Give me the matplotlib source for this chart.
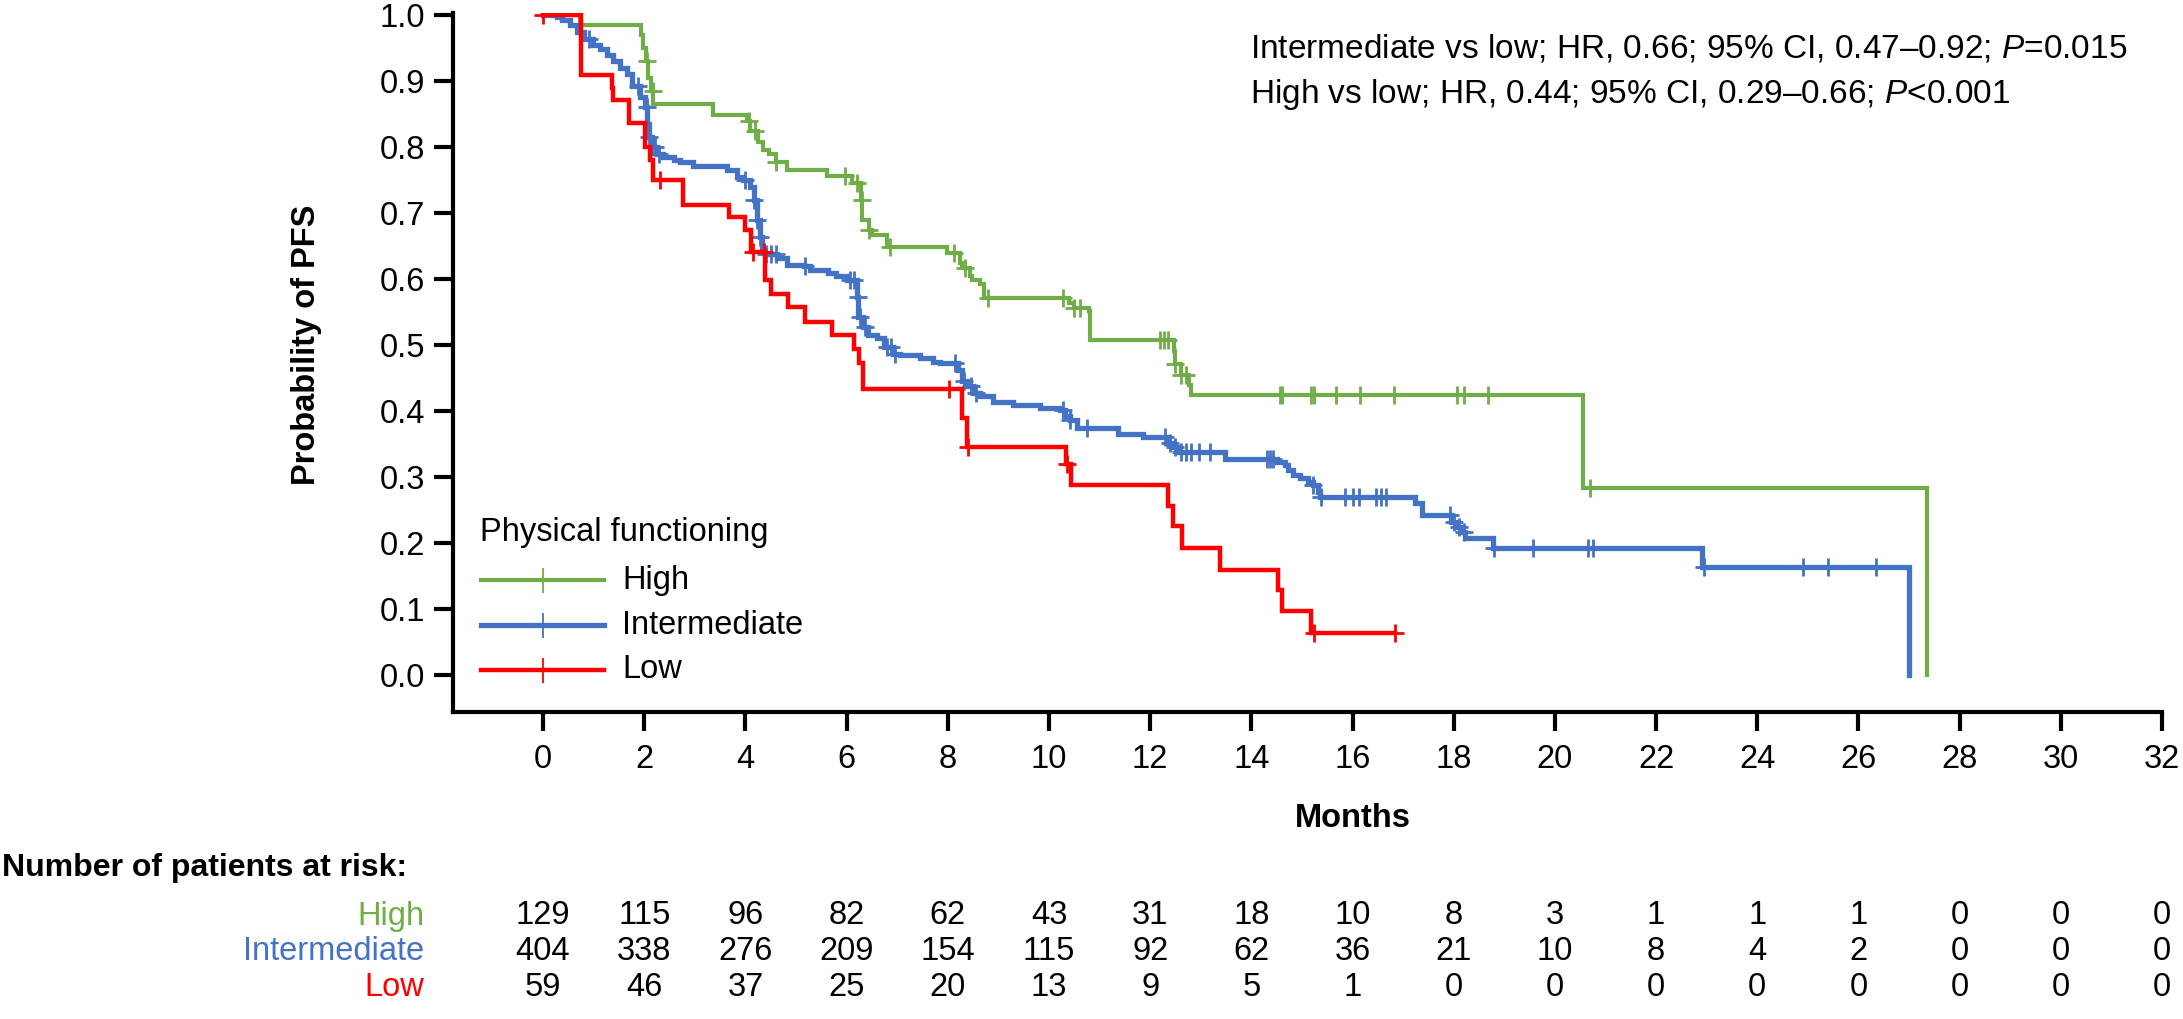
import numpy as np
import matplotlib
matplotlib.use('Agg')
import matplotlib.pyplot as plt
from matplotlib.lines import Line2D
from matplotlib.transforms import blended_transform_factory

plt.rcParams['font.family'] = ['Liberation Sans', 'DejaVu Sans']
plt.rcParams['mathtext.fontset'] = 'custom'
plt.rcParams['mathtext.it'] = 'Liberation Sans:italic'
plt.rcParams['mathtext.rm'] = 'Liberation Sans'

GREEN = '#70AD47'
BLUE = '#4472C4'
RED = '#FF0000'
FS = 23.5
W, H = 2183, 1019

# KM step data (months, probability of PFS)
high_t = [0, 0.74, 1.93, 1.98, 2.03, 2.08, 2.13, 2.18, 3.36, 4.03, 4.10, 4.25, 4.34, 4.47,
          4.60, 4.82, 5.62, 6.10, 6.28, 6.31, 6.44, 6.51, 6.80, 7.98, 8.25, 8.28, 8.44, 8.48,
          8.64, 8.71, 10.39, 10.49, 10.79, 10.82, 12.47, 12.50, 12.60, 12.77, 12.80, 20.56, 27.35]
high_s = [1.0, 0.985, 0.97, 0.95, 0.93, 0.905, 0.885, 0.865, 0.848, 0.84, 0.825, 0.808, 0.796,
          0.789, 0.777, 0.765, 0.756, 0.746, 0.72, 0.689, 0.674, 0.667, 0.649, 0.639, 0.624,
          0.616, 0.604, 0.598, 0.593, 0.571, 0.563, 0.556, 0.551, 0.508, 0.491, 0.471, 0.455,
          0.44, 0.424, 0.283, 0.0]
high_cens = [2.05, 2.17, 4.08, 4.18, 4.6, 5.97, 6.2, 6.3, 6.45, 6.85, 8.12, 8.35, 8.8, 10.27,
             10.5, 10.62, 12.2, 12.28, 12.35, 12.5, 12.6, 12.7, 14.57, 14.6, 15.18, 15.23,
             15.68, 16.15, 16.82, 18.06, 18.2, 18.67, 20.69]

int_t = [0, 0.27, 0.37, 0.53, 0.67, 0.80, 0.99, 1.13, 1.26, 1.39, 1.52, 1.65, 1.75, 1.92, 2.02,
         2.06, 2.10, 2.15, 2.25, 2.38, 2.58, 2.71, 2.97, 3.63, 3.83, 3.96, 4.09, 4.16, 4.22,
         4.28, 4.33, 4.39, 4.62, 4.82, 5.15, 5.28, 5.64, 5.80, 6.00, 6.20, 6.23, 6.33, 6.43,
         6.60, 6.73, 6.92, 7.05, 7.45, 7.71, 7.85, 8.21, 8.28, 8.37, 8.50, 8.64, 8.90, 9.29,
         9.82, 10.22, 10.32, 10.41, 10.55, 11.37, 11.85, 12.36, 12.45, 12.55, 13.48, 14.50,
         14.66, 14.73, 14.83, 14.96, 15.12, 15.22, 15.32, 15.36, 17.24, 17.37, 17.95, 18.05,
         18.15, 18.22, 18.78, 22.90, 27.0]
int_s = [1.0, 0.997, 0.993, 0.985, 0.975, 0.963, 0.955, 0.948, 0.94, 0.93, 0.92, 0.91, 0.893,
         0.876, 0.86, 0.835, 0.815, 0.80, 0.79, 0.785, 0.78, 0.777, 0.772, 0.765, 0.755, 0.75,
         0.74, 0.72, 0.69, 0.664, 0.644, 0.638, 0.632, 0.621, 0.619, 0.614, 0.609, 0.604,
         0.598, 0.573, 0.543, 0.528, 0.515, 0.51, 0.497, 0.487, 0.485, 0.48, 0.475, 0.472,
         0.462, 0.445, 0.438, 0.427, 0.422, 0.414, 0.409, 0.404, 0.402, 0.392, 0.386, 0.374,
         0.365, 0.36, 0.352, 0.345, 0.338, 0.327, 0.323, 0.318, 0.311, 0.303, 0.298, 0.293,
         0.288, 0.278, 0.269, 0.26, 0.242, 0.232, 0.225, 0.217, 0.207, 0.192, 0.163, 0.0]
int_cens = [0.9, 1.88, 2.05, 2.1, 2.15, 2.22, 2.3, 3.99, 4.17, 4.22, 4.29, 4.4, 4.5, 4.6, 5.17,
            6.07, 6.15, 6.22, 6.27, 6.37, 6.8, 6.87, 6.95, 8.14, 8.32, 8.45, 8.55, 10.27, 10.42,
            10.75, 12.3, 12.4, 12.5, 12.6, 12.7, 12.8, 12.97, 13.18, 14.3, 14.37, 14.43, 15.22,
            15.38, 15.85, 16.0, 16.13, 16.46, 16.56, 16.66, 17.92, 18.0, 18.1, 18.2, 18.8,
            19.57, 20.66, 20.75, 22.95, 24.9, 25.4, 26.35]

low_t = [0, 0.76, 1.36, 1.39, 1.69, 2.02, 2.11, 2.18, 2.77, 3.68, 3.99, 4.12, 4.38, 4.50, 4.85,
         5.18, 5.71, 6.14, 6.24, 6.33, 8.28, 8.38, 10.33, 10.43, 12.36, 12.46, 12.62, 13.39,
         14.53, 14.60, 15.17, 16.84]
low_s = [1.0, 0.909, 0.889, 0.871, 0.836, 0.80, 0.78, 0.75, 0.712, 0.694, 0.674, 0.641, 0.598,
         0.578, 0.558, 0.535, 0.515, 0.494, 0.473, 0.433, 0.39, 0.346, 0.319, 0.288, 0.256,
         0.226, 0.192, 0.159, 0.129, 0.097, 0.063, 0.063]
low_cens = [0.0, 2.31, 4.15, 4.36, 8.02, 8.40, 10.36, 15.23, 16.84]

# number at risk
risk_months = list(range(0, 33, 2))
high_risk = [129, 115, 96, 82, 62, 43, 31, 18, 10, 8, 3, 1, 1, 1, 0, 0, 0]
int_risk = [404, 338, 276, 209, 154, 115, 92, 62, 36, 21, 10, 8, 4, 2, 0, 0, 0]
low_risk = [59, 46, 37, 25, 20, 13, 9, 5, 1, 0, 0, 0, 0, 0, 0, 0, 0]

groups = [('High', GREEN, high_t, high_s, high_cens, high_risk, 3.0),
          ('Intermediate', BLUE, int_t, int_s, int_cens, int_risk, 3.8),
          ('Low', RED, low_t, low_s, low_cens, low_risk, 3.2)]

fig = plt.figure(figsize=(W / 100, H / 100), dpi=100)
ax = fig.add_axes([0.2075, 0.3013, 0.7829, 0.6859])

for name, col, t, s, cens, risk, lw in groups:
    t = np.array(t)
    s = np.array(s)
    ax.step(t, s, where='post', color=col, lw=lw, solid_joinstyle='miter')
    c = np.array(cens)
    cy = s[np.searchsorted(t, c, side='right') - 1]
    ax.plot(c, cy, ls='none', marker='+', ms=13, mew=2.0, color=col)

ax.set_xlim(-1.78, 32)
ax.set_ylim(-0.056, 1.003)
ax.set_xticks(risk_months)
ax.set_yticks(np.arange(0, 1.01, 0.1))
ax.yaxis.set_major_formatter(matplotlib.ticker.FormatStrFormatter('%.1f'))
for sp in ['top', 'right']:
    ax.spines[sp].set_visible(False)
for sp in ['left', 'bottom']:
    ax.spines[sp].set_linewidth(3.0)
ax.tick_params(axis='both', width=3.0, length=14, labelsize=FS, direction='out')
ax.tick_params(axis='x', pad=9)
ax.tick_params(axis='y', pad=6)

# legend, drawn by hand (pixel positions of the original)
fig.text(480 / W, 1 - 533 / H, 'Physical functioning', fontsize=FS, ha='left', va='center')
for (name, col, t, s, cens, risk, lw), yy in zip(groups, [580, 625, 670]):
    yf = 1 - yy / H
    fig.add_artist(Line2D([481 / W, 604 / W], [yf, yf], transform=fig.transFigure,
                          color=col, lw=lw))
    fig.add_artist(Line2D([543 / W], [yf], transform=fig.transFigure, ls='none',
                          marker='+', ms=18, mew=1.3, color=col))
    fig.text(622 / W, yf, name, fontsize=FS, ha='left', va='center')

fig.text(1250 / W, 1 - 49 / H, 'Intermediate vs low; HR, 0.66; 95% CI, 0.47\u20130.92; $P$=0.015',
         fontsize=24, ha='left', va='center')
fig.text(1250 / W, 1 - 95 / H, 'High vs low; HR, 0.44; 95% CI, 0.29\u20130.66; $P$<0.001',
         fontsize=24, ha='left', va='center')

fig.text(0.1406, 0.6614, 'Probability of PFS', rotation=90, fontsize=FS,
         fontweight='bold', ha='center', va='center')
tr = blended_transform_factory(ax.transData, fig.transFigure)
fig.text(16, 0.1963, 'Months', transform=tr, fontsize=FS, fontweight='bold',
         ha='center', va='center')

fig.text(0.001, 0.1482, 'Number of patients at risk:', fontsize=23, fontweight='bold',
         ha='left', va='center')
row_y = [1 - 916 / H, 1 - 952 / H, 1 - 987 / H]
for (name, col, t, s, cens, risk, lw), yy in zip(groups, row_y):
    fig.text(424 / W, yy, name, color=col, fontsize=FS, ha='right', va='center')
    for m, n in zip(risk_months, risk):
        fig.text(m, yy, str(n), transform=tr, fontsize=FS, ha='center', va='center')

fig.savefig('out.png', dpi=100)
